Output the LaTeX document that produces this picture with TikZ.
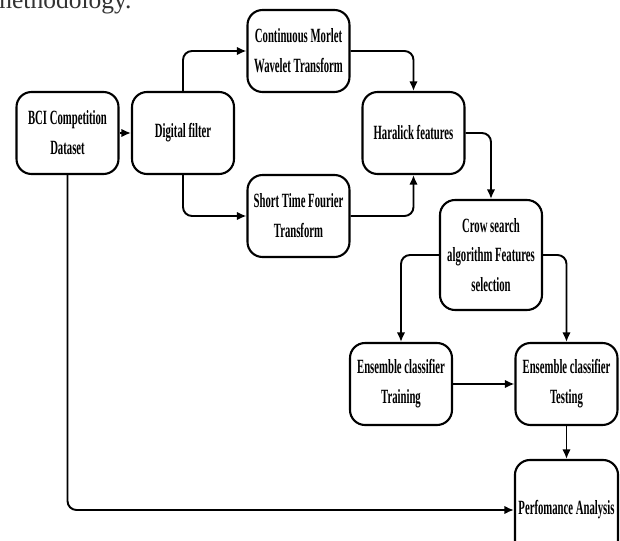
\documentclass[tikz,border=0pt]{standalone}
\usepackage{fontspec}
\setmainfont{Liberation Serif}
\newfontfamily\boxfont[FakeStretch=0.53]{Liberation Serif}
\usetikzlibrary{arrows.meta,positioning}

\begin{document}
\begin{tikzpicture}[
x=0.02cm, y=-0.02cm,
flow/.style={draw, line width=1.2pt, rounded corners=0.3cm, align=center, minimum width=2.04cm, minimum height=1.64cm, inner sep=2pt, font=\boxfont\bfseries\fontsize{11.5}{17}\selectfont},
arrow/.style={-{Latex[length=1.9mm, width=1.7mm]}, line width=1.1pt, rounded corners=0.18cm}
]
\useasboundingbox (0,0) rectangle (620,541);

% caption line cut by the page edge
\node[anchor=base west, font=\fontsize{14.5}{17}\selectfont, inner sep=0pt, text=black!80] (caption) at (-8,9) {methodology.};

\node[flow] (bci) at (67.5,133) {BCI Competition\\Dataset};
\node[flow] (filter) at (183,133) {Digital filter};
\node[flow] (cmwt) at (298.5,51) {Continuous Morlet\\Wavelet Transform};
\node[flow] (stft) at (298.5,216) {Short Time Fourier\\Transform};
\node[flow] (haralick) at (413.5,133) {Haralick features};
\node[flow, minimum height=2.2cm] (crow) at (491,255) {Crow search\\algorithm Features\\selection};
\node[flow] (train) at (401,384) {Ensemble classifier\\Training};
\node[flow] (test) at (566.5,384) {Ensemble classifier\\Testing};
\node[flow, minimum height=2cm] (perf) at (566.5,510) {Perfomance Analysis};

\draw[arrow] (bci) -- (filter);
\draw[arrow] (filter.north) |- (cmwt.west);
\draw[arrow] (filter.south) |- (stft.west);
\draw[arrow] (cmwt.east) -| (haralick.north);
\draw[arrow] (stft.east) -| (haralick.south);
\draw[arrow] (haralick.east) -| (crow.north);
\draw[arrow] (crow.west) -| (train.north);
\draw[arrow] (crow.east) -| (test.north);
\draw[arrow] (train) -- (test);
\draw[arrow] (test) -- (perf);
\draw[arrow] (bci.south) |- (perf.west);
\end{tikzpicture}
\end{document}
